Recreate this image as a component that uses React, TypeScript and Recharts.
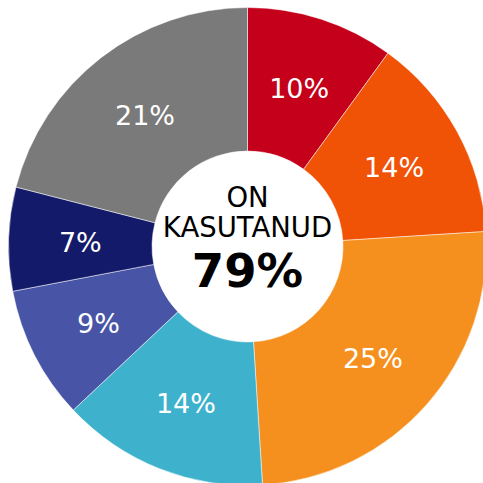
import React from "react";
import { PieChart, Pie, Cell, Label } from "recharts";

// Share of respondents by group, clockwise from 12 o'clock
const categories = ["Rühm 1", "Rühm 2", "Rühm 3", "Rühm 4", "Rühm 5", "Rühm 6", "Rühm 7"];
const shares = [10, 14, 25, 14, 9, 7, 21];
const colors = ["#C5001B", "#F05206", "#F5901E", "#3EB1CC", "#4855A7", "#131A69", "#7A7A7A"];

const centerLines = ["ON", "KASUTANUD"];
const centerValue = "79%";

const data = categories.map((name, i) => ({ name, value: shares[i] }));

const FONT = "Verdana, 'DejaVu Sans', sans-serif";
const RAD = Math.PI / 180;
const CX = 247.5;
const CY = 246.5;

const renderSliceLabel = (props: any) => {
  const { cx, cy, midAngle, innerRadius, outerRadius, value } = props;
  const r = (innerRadius + outerRadius) / 2;
  const x = cx + r * Math.cos(-midAngle * RAD);
  const y = cy + r * Math.sin(-midAngle * RAD) + 1.5;
  return (
    <text
      x={x}
      y={y}
      fill="#ffffff"
      textAnchor="middle"
      dominantBaseline="central"
      fontFamily={FONT}
      fontSize={27}
    >
      {`${value}%`}
    </text>
  );
};

const renderCenter = () => (
  <g fontFamily={FONT} textAnchor="middle">
    <text x={CX} y={CY - 39.5} fontSize={27.5} fill="#000">
      {centerLines[0]}
    </text>
    <text x={CX} y={CY - 9.5} fontSize={27.5} fill="#000">
      {centerLines[1]}
    </text>
    <text x={CX} y={CY + 40.5} fontSize={46.5} fontWeight="bold" fill="#000">
      {centerValue}
    </text>
  </g>
);

export default function App() {
  return (
    <div style={{ position: "absolute", left: 0, top: 0, width: 483, height: 483, background: "#fff" }}>
      <PieChart width={483} height={483} margin={{ top: 0, right: 0, bottom: 0, left: 0 }}>
        <Pie
          data={data}
          dataKey="value"
          nameKey="name"
          cx={CX}
          cy={CY}
          innerRadius={95.5}
          outerRadius={239}
          startAngle={90}
          endAngle={-270}
          stroke="#ffffff"
          strokeWidth={0.5}
          label={renderSliceLabel}
          labelLine={false}
          isAnimationActive={false}
        >
          {data.map((d, i) => (
            <Cell key={d.name} fill={colors[i]} />
          ))}
          <Label position="center" content={renderCenter} />
        </Pie>
      </PieChart>
    </div>
  );
}
